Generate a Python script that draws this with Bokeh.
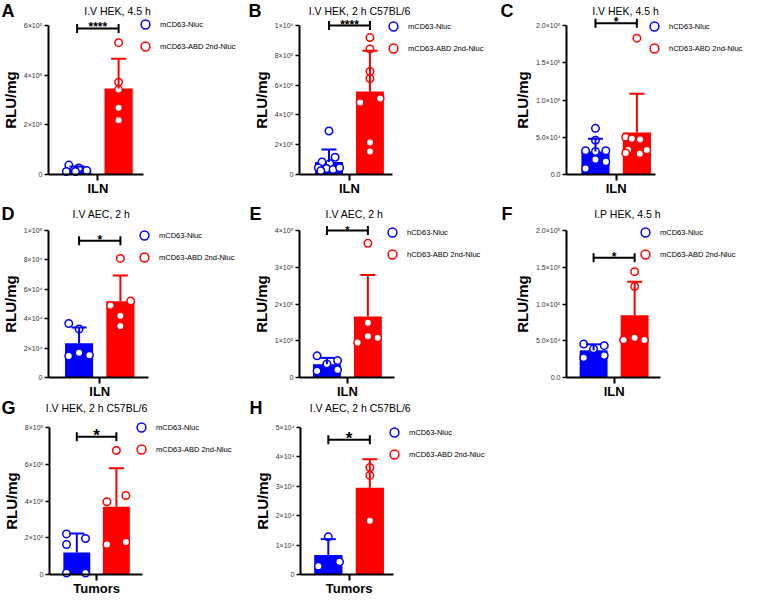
import numpy as np
from bokeh.plotting import figure
from bokeh.models import (Range1d, FixedTicker, ColumnDataSource, Whisker, TeeHead,
                          Label, Legend, LegendItem)
from bokeh.layouts import column, row
from bokeh.embed import file_html
from bokeh.resources import INLINE

FONT = "Liberation Sans"
BLUE = "#0000FF"
RED = "#FF0000"

# ---------------- data ----------------
letters = ["A", "B", "C", "D", "E", "F", "G", "H"]
titles = ["I.V HEK, 4.5 h", "I.V HEK, 2 h C57BL/6", "I.V HEK, 4.5 h", "I.V AEC, 2 h",
          "I.V AEC, 2 h", "I.P HEK, 4.5 h", "I.V HEK, 2 h C57BL/6", "I.V AEC, 2 h C57BL/6"]
categories = ["ILN", "ILN", "ILN", "ILN", "ILN", "ILN", "Tumors", "Tumors"]
legend_blue = ["mCD63-Nluc", "mCD63-Nluc", "hCD63-Nluc", "mCD63-Nluc",
               "hCD63-Nluc", "mCD63-Nluc", "mCD63-Nluc", "mCD63-Nluc"]
legend_red = ["mCD63-ABD 2nd-Nluc", "mCD63-ABD 2nd-Nluc", "hCD63-ABD 2nd-Nluc", "mCD63-ABD 2nd-Nluc",
              "hCD63-ABD 2nd-Nluc", "mCD63-ABD 2nd-Nluc", "mCD63-ABD 2nd-Nluc", "mCD63-ABD 2nd-Nluc"]
significance = ["****", "****", "*", "*", "*", "*", "*", "*"]
bracket_values = [588000, 1000000, 203000, 93000, 400000, 163000, 750000, 45800]

A_blue = [38000, 26000, 12000, 12000, 16000]
A_blue_jit = [-0.20, 0.04, -0.26, -0.04, 0.23]
A_red = [531000, 372000, 342000, 269000, 218000]
A_red_jit = [0, 0, 0, 0, 0]

B_blue = [292000, 116000, 84000, 73000, 46000, 40000, 33000, 46000, 25000]
B_blue_jit = [0.0, 0.15, -0.17, 0.02, -0.26, -0.06, 0.10, 0.26, -0.20]
B_red = [919000, 842000, 692000, 644000, 484000, 510000, 215000, 154000]
B_red_jit = [0, 0, 0, 0, -0.24, 0.25, 0, 0]

C_blue = [62000, 46000, 32000, 32000, 31000, 20000, 17000, 8000]
C_blue_jit = [0, 0, -0.24, 0.25, 0.0, 0.0, 0.25, -0.24]
C_red = [183000, 50000, 48000, 47000, 33000, 33000, 29000, 28000]
C_red_jit = [0, -0.27, -0.12, 0.08, -0.21, 0.24, -0.27, 0.07]

D_blue = [36700, 33000, 14700, 16900, 15200]
D_blue_jit = [-0.25, 0.0, -0.25, 0.0, 0.25]
D_red = [81000, 52000, 49000, 42000, 35000]
D_red_jit = [0, 0.25, -0.24, 0, 0]

E_blue = [59000, 46000, 37000, 18000, 21000]
E_blue_jit = [-0.24, 0.26, 0, -0.24, 0.26]
E_red = [365000, 149000, 95000, 112000, 108000]
E_red_jit = [0, 0, -0.25, 0, 0.24]

F_blue = [45500, 39000, 43300, 27000, 30000]
F_blue_jit = [-0.24, 0, 0.26, -0.24, 0.26]
F_red = [144000, 124000, 51000, 54000, 51000]
F_red_jit = [0, 0, -0.27, 0, 0.24]

G_blue = [221000, 196000, 163000, 8000, 8000]
G_blue_jit = [-0.26, 0.22, -0.26, -0.26, 0.22]
G_red = [675000, 430000, 396000, 163000, 177000]
G_red_jit = [0, 0.24, -0.24, -0.24, 0.24]

H_blue = [12800, 2800, 4300]
H_blue_jit = [0, -0.24, 0.27]
H_red = [36400, 33700, 18300]
H_red_jit = [0, 0, 0]

A_ticks = [0, 200000, 400000, 600000]
A_tick_labels = ["0", "2×10⁵", "4×10⁵", "6×10⁵"]
B_ticks = [0, 200000, 400000, 600000, 800000, 1000000]
B_tick_labels = ["0", "2×10⁵", "4×10⁵", "6×10⁵", "8×10⁵", "1×10⁶"]
C_ticks = [0, 50000, 100000, 150000, 200000]
C_tick_labels = ["0.0", "5.0×10⁴", "1.0×10⁵", "1.5×10⁵", "2.0×10⁵"]
D_ticks = [0, 20000, 40000, 60000, 80000, 100000]
D_tick_labels = ["0", "2×10⁴", "4×10⁴", "6×10⁴", "8×10⁴", "1×10⁵"]
E_ticks = [0, 100000, 200000, 300000, 400000]
E_tick_labels = ["0", "1×10⁵", "2×10⁵", "3×10⁵", "4×10⁵"]
F_ticks = [0, 50000, 100000, 150000, 200000]
F_tick_labels = ["0.0", "5.0×10⁴", "1.0×10⁵", "1.5×10⁵", "2.0×10⁵"]
G_ticks = [0, 200000, 400000, 600000, 800000]
G_tick_labels = ["0", "2×10⁵", "4×10⁵", "6×10⁵", "8×10⁵"]
H_ticks = [0, 10000, 20000, 30000, 40000, 50000]
H_tick_labels = ["0", "1×10⁴", "2×10⁴", "3×10⁴", "4×10⁴", "5×10⁴"]

# ---------------- layout (pixel positions / sizes only) ----------------
# rows: (height, head_center_y, axis_top_y, axis_height)
ROWS = [(198, 10, 25, 149), (200, 15, 32, 147), (197, 9, 29, 147)]
# panel: width, row, axis_x, axis_len, x0, x1, letter_x, title_cx,
#        legend_circle_x, legend_c1, legend_pitch, star_size
PANELS = {
    "A": (244, 0, 48, 95, -1.19, 1.10, 1, 117, 145, 4, 17, 12),
    "B": (252, 0, 55, 93, -1.22, 1.05, 4, 115, 149, 5, 18, 12),
    "C": (248, 0, 70, 89, -1.20, 0.95, 4, 129, 158, 8, 15, 12),
    "D": (244, 1, 48, 100, -1.24, 1.18, 1, 101, 144, 9, 18, 12),
    "E": (252, 1, 55, 95, -1.17, 1.15, 5, 110, 148, 11, 13, 11),
    "F": (248, 1, 70, 94, -1.16, 1.13, 5, 131, 149, 11, 13, 12),
    "G": (244, 2, 49, 93, -1.19, 1.16, 1, 96, 141, 7, 15, 17),
    "H": (252, 2, 56, 93, -1.17, 1.07, 5, 116, 150, 8, 19, 17),
}


def build(i, blue, blue_j, red, red_j, ticks, tick_labels):
    letter = letters[i]
    (W, r, ax, alen, x0, x1, letter_x, title_cx,
     leg_x, leg_c1, leg_pitch, star_size) = PANELS[letter]
    H, head_y, top_y, fh = ROWS[r]
    ymax = ticks[-1]
    # scales so that the whole canvas is the frame
    u = alen / (x1 - x0)
    xs, xe = x0 - ax / u, x0 + (W - ax) / u
    v = ymax / fh
    ye, ys = ymax + top_y * v, -(H - top_y - fh) * v

    p = figure(width=W, height=H, x_range=Range1d(xs, xe), y_range=Range1d(ys, ye),
               output_backend="svg", toolbar_location=None, title_location=None,
               min_border=0, min_border_left=0, min_border_right=0,
               min_border_top=0, min_border_bottom=0)
    p.xgrid.visible = False
    p.ygrid.visible = False
    p.outline_line_color = None

    xb, xr = -0.5, 0.5
    mb, mr = float(np.mean(blue)), float(np.mean(red))
    sb, sr = float(np.std(blue, ddof=1)), float(np.std(red, ddof=1))

    p.vbar(x=[xb, xr], top=[mb, mr], bottom=0, width=0.68,
           fill_color=[BLUE, RED], line_color=None)

    for xc, m, s, c in ((xb, mb, sb, BLUE), (xr, mr, sr, RED)):
        src = ColumnDataSource(dict(base=[xc], lower=[m], upper=[m + s]))
        w = Whisker(source=src, base="base", lower="lower", upper="upper",
                    dimension="height", line_color=c, line_width=2, level="glyph",
                    upper_head=TeeHead(size=15, line_color=c, line_width=2),
                    lower_head=None)
        p.add_layout(w)

    rb = p.scatter(x=list(xb + np.array(blue_j)), y=blue, marker="circle", size=7.5,
                   fill_color="white", line_color=BLUE, line_width=1.5)
    rr = p.scatter(x=list(xr + np.array(red_j)), y=red, marker="circle", size=7.5,
                   fill_color="white", line_color=RED, line_width=1.5)

    # significance bracket
    bsrc = ColumnDataSource(dict(base=[bracket_values[i]], lower=[xb], upper=[xr]))
    br = Whisker(source=bsrc, base="base", lower="lower", upper="upper", dimension="width",
                 line_color="black", line_width=2,
                 lower_head=TeeHead(size=9, line_color="black", line_width=2),
                 upper_head=TeeHead(size=9, line_color="black", line_width=2))
    p.add_layout(br)
    p.add_layout(Label(x=0, y=bracket_values[i], text=significance[i], text_align="center",
                       text_baseline="alphabetic", y_offset=1, text_font=FONT,
                       text_font_size=f"{star_size}px", text_font_style="bold",
                       text_color="black"))

    # axes
    yax = p.yaxis[0]
    yax.fixed_location = x0
    yax.bounds = (0, ymax)
    yax.ticker = FixedTicker(ticks=ticks)
    yax.major_label_overrides = {t: lab for t, lab in zip(ticks, tick_labels)}
    yax.axis_label = "RLU/mg"
    yax.axis_label_text_font = FONT
    yax.axis_label_text_font_size = "15px"
    yax.axis_label_text_font_style = "bold"
    yax.axis_label_text_color = "black"
    yax.axis_label_standoff = 2
    yax.major_label_text_font = FONT
    yax.major_label_text_font_size = "7px"
    yax.major_label_text_color = "#333333"
    yax.major_label_standoff = 2
    yax.major_tick_out = 4
    yax.major_tick_in = 0
    yax.minor_tick_out = 0
    yax.minor_tick_in = 0
    yax.axis_line_width = 2
    yax.axis_line_color = "black"
    yax.major_tick_line_width = 1.5
    yax.major_tick_line_color = "black"

    xax = p.xaxis[0]
    xax.fixed_location = 0
    xax.bounds = (x0, x1)
    xax.ticker = FixedTicker(ticks=[0])
    xax.major_label_overrides = {0: categories[i]}
    xax.major_label_text_font = FONT
    xax.major_label_text_font_size = "13px"
    xax.major_label_text_font_style = "bold"
    xax.major_label_text_color = "black"
    xax.major_label_standoff = 0
    xax.major_tick_out = 6
    xax.major_tick_in = 0
    xax.minor_tick_out = 0
    xax.minor_tick_in = 0
    xax.axis_line_width = 2
    xax.axis_line_color = "black"
    xax.major_tick_line_width = 2
    xax.major_tick_line_color = "black"

    # panel letter and title
    p.add_layout(Label(x=letter_x, y=H - head_y, x_units="screen", y_units="screen",
                       text=letter, text_font=FONT, text_font_size="18px",
                       text_font_style="bold", text_color="black",
                       text_baseline="middle", text_align="left"))
    p.add_layout(Label(x=title_cx, y=H - head_y, x_units="screen", y_units="screen",
                       text=titles[i], text_font=FONT, text_font_size="10.5px",
                       text_color="black", text_baseline="middle", text_align="center"))

    # legend
    gw = gh = 22
    lx = leg_x - gw / 2
    first_c = top_y + leg_c1
    vy = H - first_c - gh / 2 - leg_pitch
    legend = Legend(items=[LegendItem(label=legend_blue[i], renderers=[rb]),
                           LegendItem(label=legend_red[i], renderers=[rr])],
                    location=(lx, vy), orientation="vertical",
                    glyph_width=gw, glyph_height=gh, spacing=leg_pitch - gh,
                    padding=0, margin=0, border_line_color=None,
                    background_fill_alpha=0, label_standoff=4,
                    label_text_font=FONT, label_text_font_size="7.5px",
                    label_text_color="black",
                    label_height=10, label_width=10)
    p.add_layout(legend)
    return p


pA = build(0, A_blue, A_blue_jit, A_red, A_red_jit, A_ticks, A_tick_labels)
pB = build(1, B_blue, B_blue_jit, B_red, B_red_jit, B_ticks, B_tick_labels)
pC = build(2, C_blue, C_blue_jit, C_red, C_red_jit, C_ticks, C_tick_labels)
pD = build(3, D_blue, D_blue_jit, D_red, D_red_jit, D_ticks, D_tick_labels)
pE = build(4, E_blue, E_blue_jit, E_red, E_red_jit, E_ticks, E_tick_labels)
pF = build(5, F_blue, F_blue_jit, F_red, F_red_jit, F_ticks, F_tick_labels)
pG = build(6, G_blue, G_blue_jit, G_red, G_red_jit, G_ticks, G_tick_labels)
pH = build(7, H_blue, H_blue_jit, H_red, H_red_jit, H_ticks, H_tick_labels)

layout = column(row(pA, pB, pC), row(pD, pE, pF), row(pG, pH))

open("out.html", "w").write(file_html(layout, INLINE))
